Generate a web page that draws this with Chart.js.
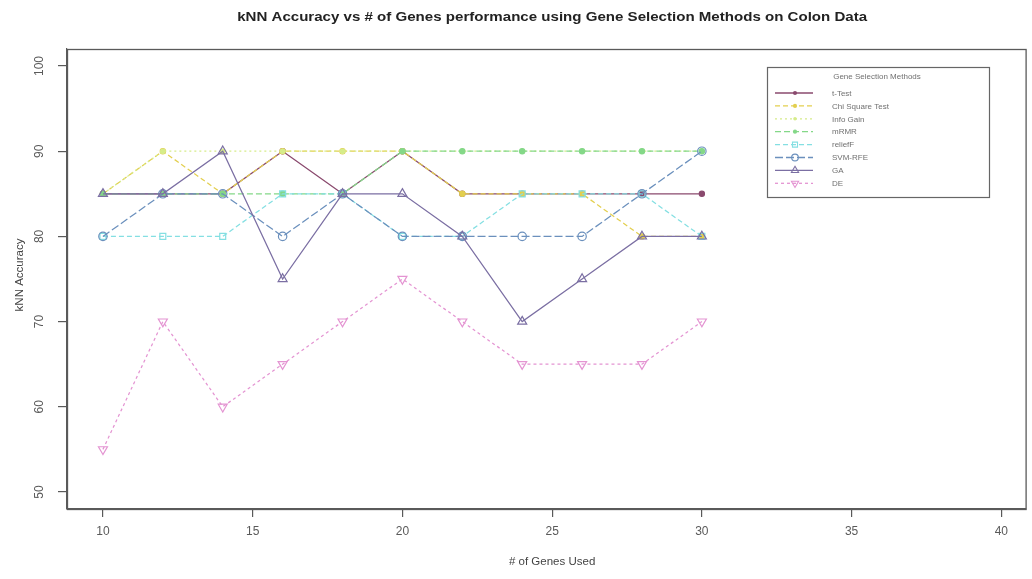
<!DOCTYPE html>
<html>
<head>
<meta charset="utf-8">
<script src="https://cdn.jsdelivr.net/npm/chart.js@4.4.1/dist/chart.umd.min.js"></script>
<style>
  html, body { margin: 0; padding: 0; background: #ffffff; overflow: hidden; }
  #wrap { width: 1032px; height: 579px; position: relative; }
</style>
</head>
<body>
<div id="wrap"><canvas id="chart" width="1032" height="579"></canvas></div>
<script>
// Number of genes used for each run
const genes = [10, 12, 14, 16, 18, 20, 22, 24, 26, 28, 30];

// kNN accuracy (%) per gene selection method
const tTest     = [85, 85, 85, 90, 85, 90, 85, 85, 85, 85, 85];
const chiSquare = [85, 90, 85, 90, 90, 90, 85, 85, 85, 80, 80];
const infoGain  = [85, 90, 90, 90, 90, 90, 90, 90, 90, 90, 90];
const mRMR      = [85, 85, 85, 85, 85, 90, 90, 90, 90, 90, 90];
const reliefF   = [80, 80, 80, 85, 85, 80, 80, 85, 85, 85, 80];
const svmRfe    = [80, 85, 85, 80, 85, 80, 80, 80, 80, 85, 90];
const gaAcc     = [85, 85, 90, 75, 85, 85, 80, 70, 75, 80, 80];
const deAcc     = [55, 70, 60, 65, 70, 75, 70, 65, 65, 65, 70];

const methodNames = ['t-Test', 'Chi Square Test', 'Info Gain', 'mRMR', 'reliefF', 'SVM-RFE', 'GA', 'DE'];
const xTickValues = [10, 15, 20, 25, 30, 35, 40];
const yTickValues = [50, 60, 70, 80, 90, 100];

const chartTitle = 'kNN Accuracy vs # of Genes performance using Gene Selection Methods on Colon Data';
const xTitle = '# of Genes Used';
const yTitle = 'kNN Accuracy';
const legendTitle = 'Gene Selection Methods';

const seriesValues = [tTest, chiSquare, infoGain, mRMR, reliefF, svmRfe, gaAcc, deAcc];

// line colour, dash pattern and plotting symbol for each method
const seriesStyles = [
  { color: '#8a4a6e', dash: [],     shape: 'circle',   r: 2.6, filled: true },
  { color: '#e3cf4f', dash: [5, 3], shape: 'circle',   r: 2.6, filled: true },
  { color: '#d6ec8a', dash: [2, 3], shape: 'circle',   r: 2.2, filled: true },
  { color: '#84d888', dash: [6, 3], shape: 'circle',   r: 2.6, filled: true },
  { color: '#84dfe2', dash: [5, 3], shape: 'rect',     r: 4.2, filled: false },
  { color: '#6b90bd', dash: [8, 3], shape: 'circle',   r: 4.2, filled: false },
  { color: '#7b6fa3', dash: [],     shape: 'triangle', r: 5.2, filled: false },
  { color: '#e494d2', dash: [3, 3], shape: 'triangle', r: 5.2, filled: false, rot: 180 }
];

const FONT = '"Liberation Sans", Arial, sans-serif';
const AXIS_GREY = '#5a5a5a';

// later methods are painted over earlier ones
const datasets = seriesValues.map((vals, i) => {
  const s = seriesStyles[i];
  return {
    label: methodNames[i],
    order: seriesValues.length - i,
    data: genes.map((g, k) => ({ x: g, y: vals[k] })),
    borderColor: s.color,
    borderWidth: 1.25,
    borderDash: s.dash,
    backgroundColor: s.color,
    fill: false,
    tension: 0,
    pointStyle: s.shape,
    pointRotation: s.rot || 0,
    pointRadius: s.r,
    pointBorderColor: s.color,
    pointBorderWidth: 1.2,
    pointBackgroundColor: s.filled ? s.color : 'rgba(0,0,0,0)'
  };
});

// draws a symbol for the legend key
function drawSymbol(ctx, s, x, y) {
  ctx.save();
  ctx.setLineDash([]);
  ctx.lineWidth = 1.1;
  ctx.strokeStyle = s.color;
  ctx.fillStyle = s.color;
  const r = s.r * 0.8;
  ctx.beginPath();
  if (s.shape === 'circle') {
    ctx.arc(x, y, r, 0, Math.PI * 2);
  } else if (s.shape === 'rect') {
    ctx.rect(x - r * 0.75, y - r * 0.75, r * 1.5, r * 1.5);
  } else {
    const dir = s.rot ? -1 : 1;
    ctx.moveTo(x, y - dir * r);
    ctx.lineTo(x + r * 0.87, y + dir * r * 0.5);
    ctx.lineTo(x - r * 0.87, y + dir * r * 0.5);
    ctx.closePath();
  }
  if (s.filled) ctx.fill(); else ctx.stroke();
  ctx.restore();
}

const framePlugin = {
  id: 'frame',
  afterDraw(chart) {
    const ctx = chart.ctx;
    const a = chart.chartArea;
    const xs = chart.scales.x;
    const ys = chart.scales.y;
    ctx.save();

    // plot box
    ctx.strokeStyle = AXIS_GREY;
    ctx.lineWidth = 1.3;
    ctx.setLineDash([]);
    ctx.strokeRect(a.left + 0.5, a.top + 0.5, a.right - a.left, a.bottom - a.top);

    // y tick labels, written along the axis
    ctx.fillStyle = AXIS_GREY;
    ctx.font = '12px ' + FONT;
    ctx.textAlign = 'center';
    ctx.textBaseline = 'middle';
    yTickValues.forEach(v => {
      const py = ys.getPixelForValue(v);
      ctx.save();
      ctx.translate(a.left - 27, py);
      ctx.rotate(-Math.PI / 2);
      ctx.fillText(String(v), 0, 0);
      ctx.restore();
    });

    // axis titles
    ctx.fillStyle = '#444444';
    ctx.font = '11.5px ' + FONT;
    ctx.save();
    ctx.translate(20, (a.top + a.bottom) / 2 - 4);
    ctx.rotate(-Math.PI / 2);
    ctx.fillText(yTitle, 0, 0);
    ctx.restore();
    const cx = xs.getPixelForValue(25);
    ctx.fillText(xTitle, cx, 562);

    // main title
    ctx.fillStyle = '#222222';
    ctx.font = 'bold 13.5px ' + FONT;
    const w = ctx.measureText(chartTitle).width;
    ctx.save();
    ctx.translate(cx, 17);
    ctx.scale(630 / w, 1);
    ctx.fillText(chartTitle, 0, 0);
    ctx.restore();

    // legend
    const lx = 767, ly = 67, lw = 222, lh = 130;
    ctx.strokeStyle = '#666666';
    ctx.lineWidth = 1.2;
    ctx.strokeRect(lx + 0.5, ly + 0.5, lw, lh);
    ctx.fillStyle = '#707070';
    ctx.font = '8px ' + FONT;
    ctx.textAlign = 'center';
    ctx.fillText(legendTitle, lx + 110, ly + 10);
    ctx.textAlign = 'left';
    seriesStyles.forEach((s, i) => {
      const ey = ly + 26 + i * 12.9;
      ctx.strokeStyle = s.color;
      ctx.lineWidth = 1.3;
      ctx.setLineDash(s.dash);
      ctx.beginPath();
      ctx.moveTo(lx + 8, ey);
      ctx.lineTo(lx + 46, ey);
      ctx.stroke();
      drawSymbol(ctx, s, lx + 28, ey);
      ctx.fillStyle = '#707070';
      ctx.fillText(methodNames[i], lx + 65, ey + 0.5);
    });

    ctx.restore();
  }
};

new Chart(document.getElementById('chart').getContext('2d'), {
  type: 'line',
  data: { datasets },
  options: {
    responsive: false,
    animation: false,
    devicePixelRatio: 1,
    layout: { padding: { top: 49, right: 3, left: 0, bottom: 0 } },
    plugins: {
      legend: { display: false },
      title: { display: false },
      tooltip: { enabled: false }
    },
    scales: {
      x: {
        type: 'linear',
        min: 8.8,
        max: 40.81,
        afterBuildTicks: s => { s.ticks = xTickValues.map(v => ({ value: v })); },
        afterFit: s => { s.height = 70; },
        grid: { drawOnChartArea: false, drawTicks: true, tickLength: 8, color: AXIS_GREY, lineWidth: 1.2 },
        border: { display: true, color: AXIS_GREY, width: 1.2 },
        ticks: { color: AXIS_GREY, font: { size: 12, family: FONT }, padding: 7, maxRotation: 0, autoSkip: false }
      },
      y: {
        type: 'linear',
        min: 48,
        max: 102,
        afterBuildTicks: s => { s.ticks = yTickValues.map(v => ({ value: v })); },
        afterFit: s => { s.width = 67; },
        grid: { drawOnChartArea: false, drawTicks: true, tickLength: 9, color: AXIS_GREY, lineWidth: 1.2 },
        border: { display: true, color: AXIS_GREY, width: 1.2 },
        ticks: { display: false }
      }
    }
  },
  plugins: [framePlugin]
});
</script>
</body>
</html>
